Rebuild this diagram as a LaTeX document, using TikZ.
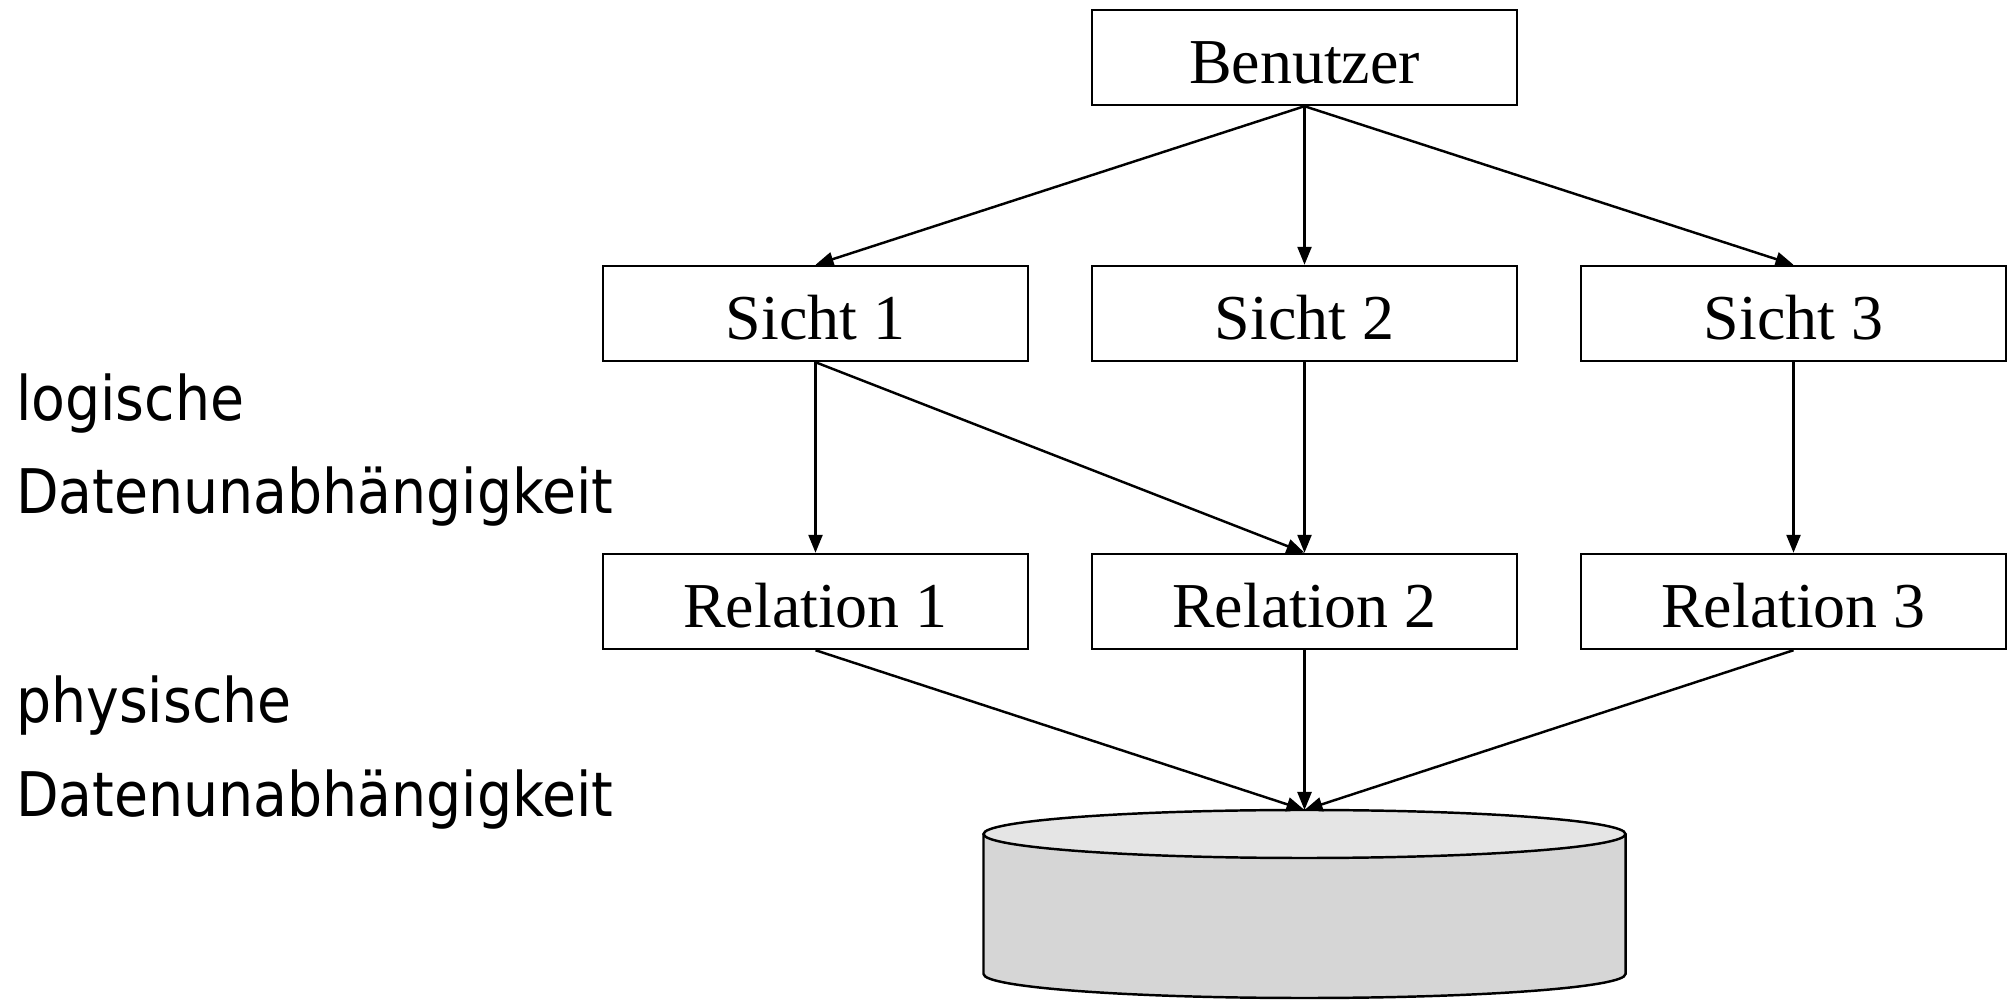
\documentclass[tikz,border=0pt]{standalone}
\usepackage{fontspec}
\setmainfont{Liberation Serif}
\newfontfamily\labelfont{DejaVu Sans Condensed}
\usepackage{tikz}
\usetikzlibrary{arrows.meta,positioning,calc}

\definecolor{dbtop}{gray}{0.9}
\definecolor{dbside}{gray}{0.84}

\begin{document}
\begin{tikzpicture}[->, >={Triangle[length=0.18cm,width=0.14cm]}, line width=0.7pt]
\tikzstyle{layer}=[draw=black,fill=white,minimum width=4.25cm,minimum height=0.95cm,inner sep=0pt,text height=0.52cm,text depth=0pt,font=\fontsize{18.2}{20}\selectfont]
\tikzstyle{side label}=[anchor=base west,inner sep=0pt,font=\labelfont\fontsize{17.5}{20}\selectfont]
\useasboundingbox (0,0) rectangle (20.15,-10.0);

\node[layer]    (B)  at (13.045,-0.575)         {Benutzer};
\node[layer]    (S2) [below of=B, node distance=2.56cm]  {Sicht 2};
\node[layer]    (S1) [left of=S2, node distance=4.89cm]  {Sicht 1};
\node[layer]    (S3) [right of=S2, node distance=4.89cm] {Sicht 3};
\node[layer]    (R2) [below of=S2, node distance=2.88cm] {Relation 2};
\node[layer]    (R1) [left of=R2, node distance=4.89cm]  {Relation 1};
\node[layer]    (R3) [right of=R2, node distance=4.89cm] {Relation 3};

% Datenbank
\draw[-, fill=dbside] (9.835,-8.34) -- (9.835,-9.74)
    arc[start angle=180, end angle=360, x radius=3.21, y radius=0.24] -- (16.255,-8.34);
\draw[-, fill=dbtop] (13.045,-8.34) ellipse [x radius=3.21, y radius=0.24];
\coordinate (DB) at (13.045,-8.10);

\node[side label] (L1) at (0.15,-4.21) {logische};
\node[side label] (L2) at (0.15,-5.14) {Datenunabhängigkeit};
\node[side label] (P1) at (0.15,-7.23) {physische};
\node[side label] (P2) at (0.15,-8.17) {Datenunabhängigkeit};

\path
(B.south)  edge (S1.north)
     edge (S2.north)
     edge (S3.north)
(S1.south) edge (R1.north)
     edge (R2.north)
(S2.south) edge (R2.north)
(S3.south) edge (R3.north)
(R1.south) edge (DB)
(R2.south) edge (DB)
(R3.south) edge (DB);
\end{tikzpicture}
\end{document}
